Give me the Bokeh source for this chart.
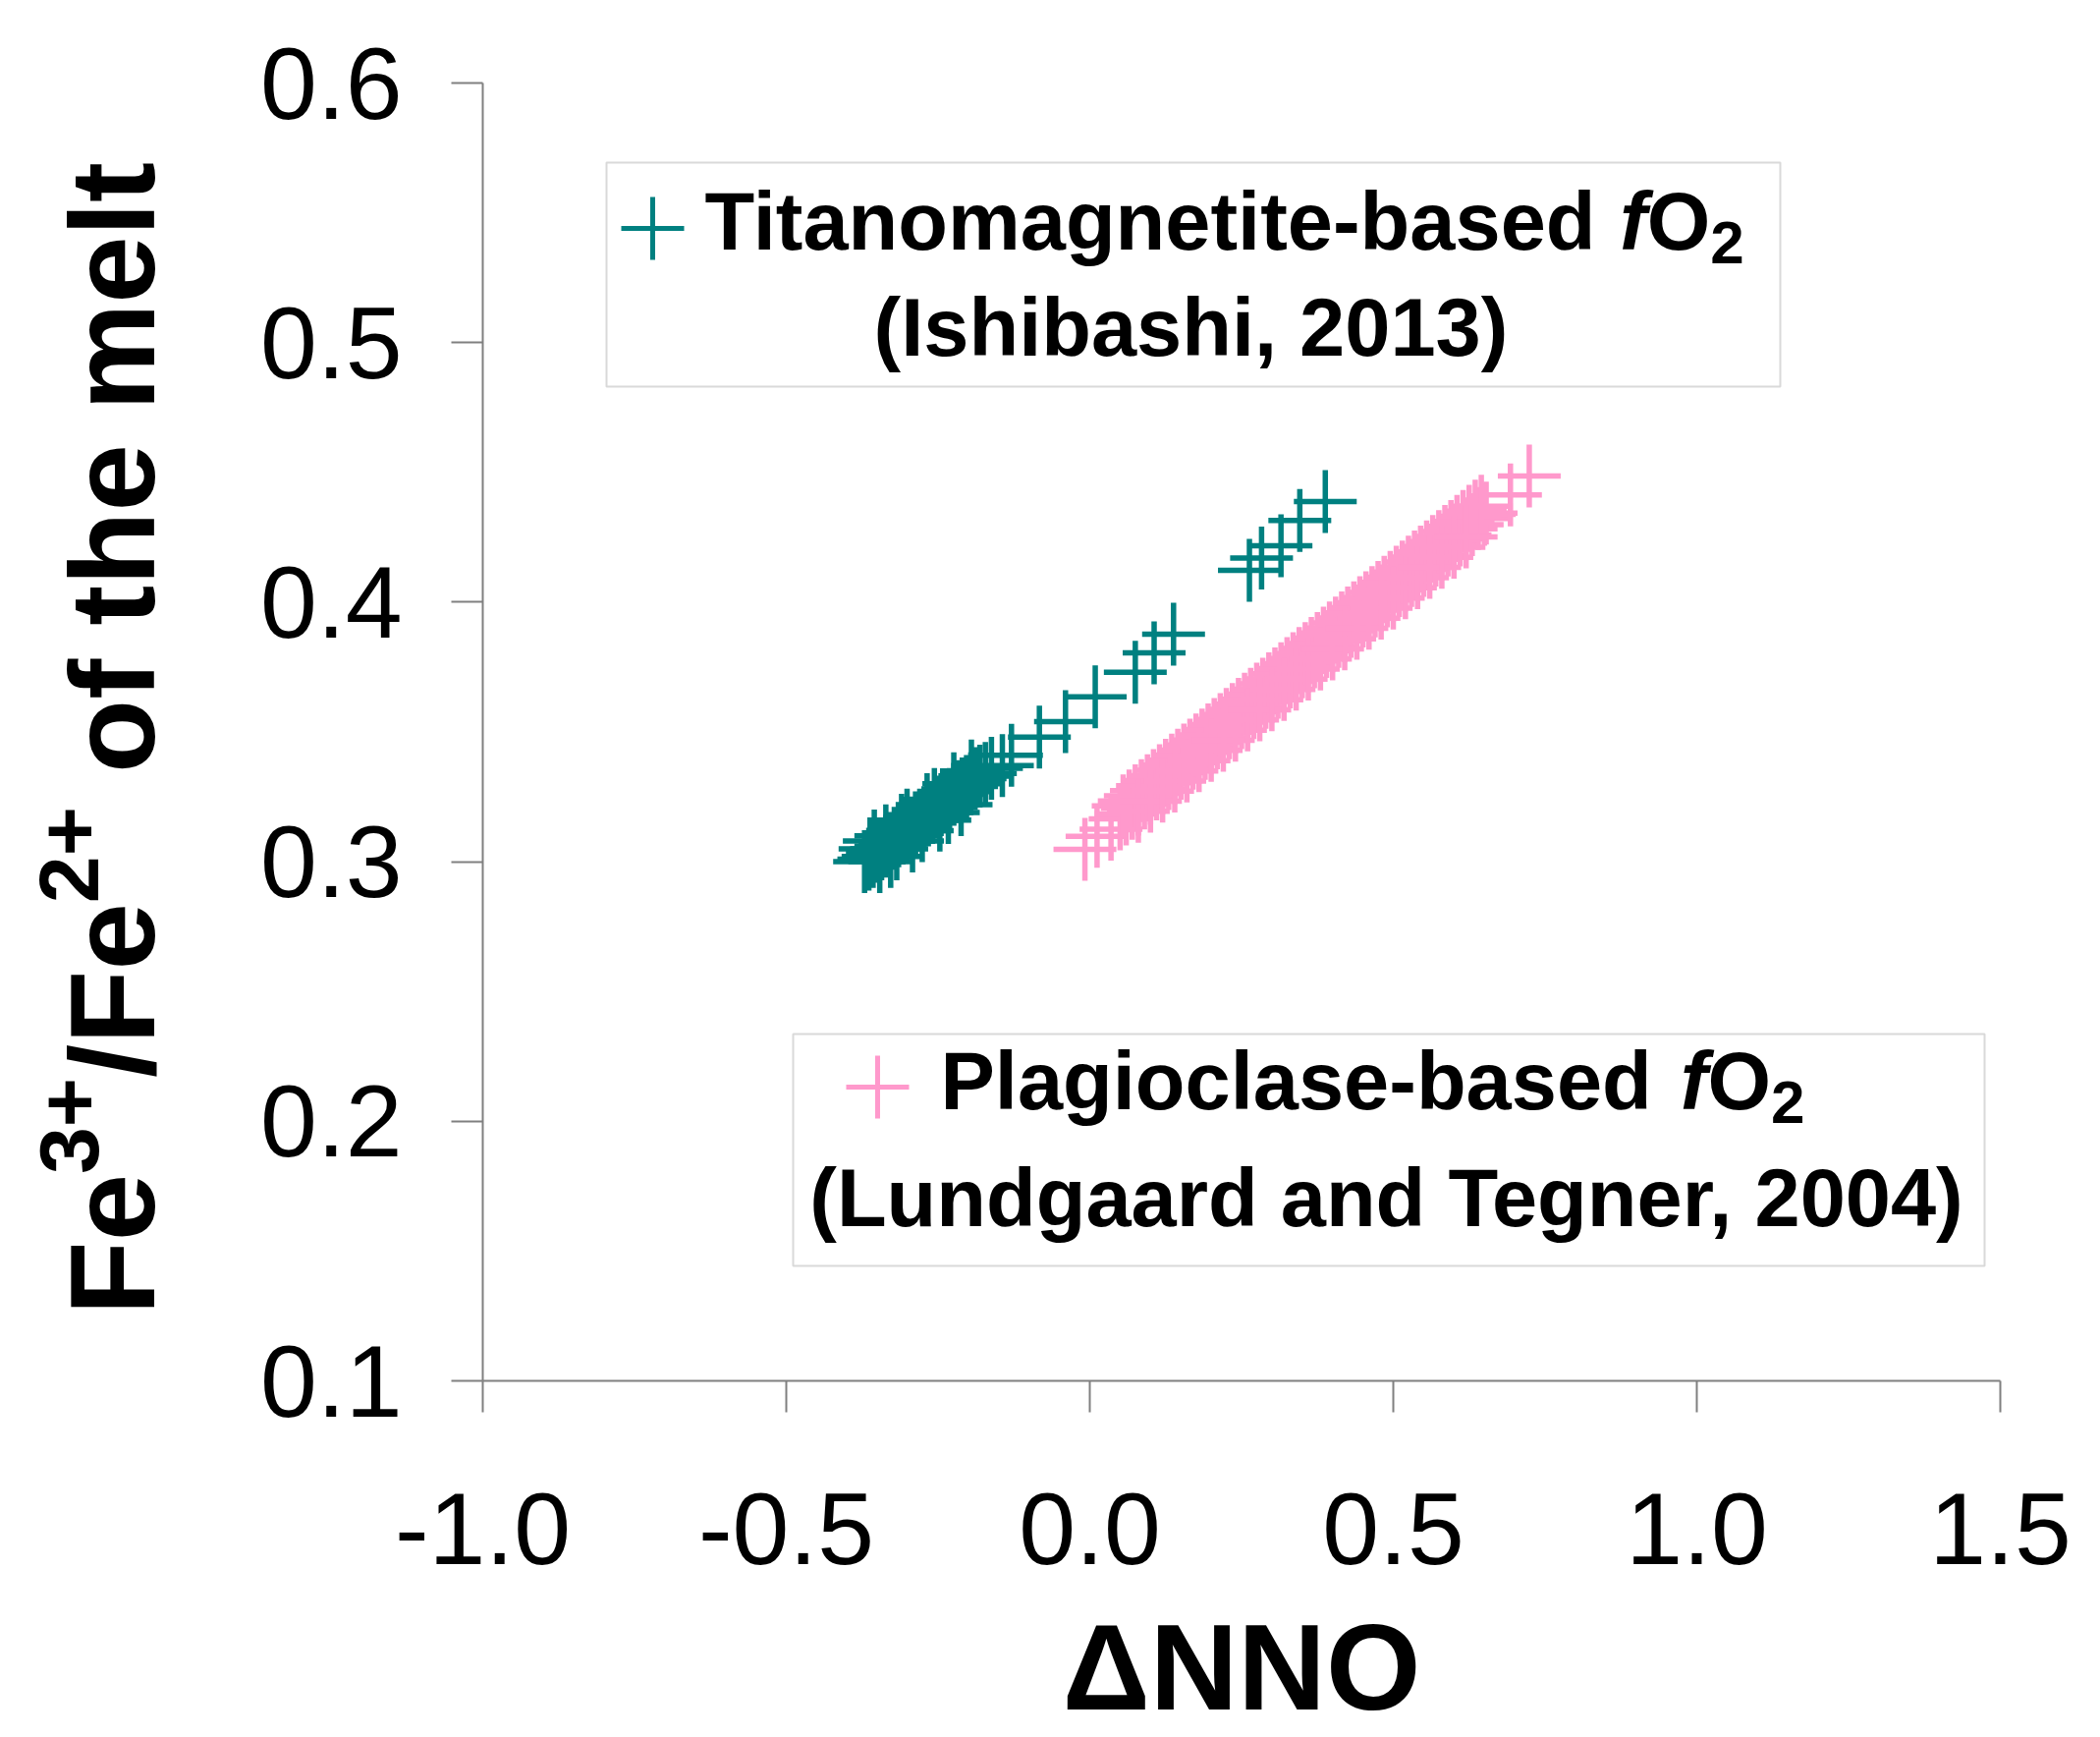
from math import pi
from bokeh.plotting import figure
from bokeh.layouts import row
from bokeh.models import Label, BoxAnnotation, FixedTicker, NumeralTickFormatter
from bokeh.embed import file_html
from bokeh.resources import INLINE

# ---------------- data ----------------
# Titanomagnetite-based fO2 (Ishibashi, 2013)
titano_x = [-0.371, -0.364, -0.357, -0.350, -0.343, -0.336, -0.329, -0.322, -0.315, -0.308,
            -0.301, -0.294, -0.287, -0.280, -0.273, -0.266, -0.259, -0.252, -0.245, -0.238,
            -0.231, -0.224, -0.217, -0.210, -0.203, -0.196, -0.189, -0.181, -0.172, -0.162,
            -0.362, -0.346, -0.336, -0.318, -0.301, -0.276, -0.256, -0.233,
            -0.355, -0.328, -0.310, -0.292, -0.268, -0.247, -0.224, -0.212, -0.195,
            -0.144, -0.129, -0.083, -0.040, 0.009, 0.075, 0.106, 0.138,
            0.263, 0.283, 0.315, 0.346, 0.388]
titano_y = [0.300, 0.301, 0.302, 0.304, 0.305, 0.306, 0.307, 0.309, 0.310, 0.311,
            0.312, 0.313, 0.315, 0.316, 0.317, 0.318, 0.319, 0.321, 0.322, 0.323,
            0.324, 0.326, 0.327, 0.328, 0.329, 0.330, 0.332, 0.333, 0.334, 0.336,
            0.305, 0.300, 0.310, 0.305, 0.316, 0.312, 0.324, 0.319,
            0.308, 0.302, 0.314, 0.308, 0.322, 0.316, 0.330, 0.322, 0.335,
            0.337, 0.341, 0.348, 0.354, 0.3635, 0.373, 0.3805, 0.3877,
            0.4123, 0.417, 0.4217, 0.4315, 0.4388]

# Plagioclase-based fO2 (Lundgaard and Tegner, 2004)
plag_x_main = [-0.008, 0.012, 0.035,
               0.050, 0.060, 0.070, 0.080, 0.090, 0.100, 0.110, 0.120, 0.130, 0.140, 0.150,
               0.160, 0.170, 0.180, 0.190, 0.200, 0.210, 0.220, 0.230, 0.240, 0.250, 0.260,
               0.270, 0.280, 0.290, 0.300, 0.310, 0.320, 0.330, 0.340, 0.350, 0.360, 0.370,
               0.380, 0.390, 0.400, 0.410, 0.420, 0.430, 0.440, 0.450, 0.460, 0.470, 0.480,
               0.490, 0.500, 0.510, 0.520, 0.530, 0.540, 0.550, 0.560, 0.570, 0.580, 0.590,
               0.600, 0.610, 0.620, 0.630, 0.640, 0.650,
               0.653, 0.693, 0.724]
plag_y_main = [0.3048, 0.3098, 0.3125,
               0.3165, 0.3184, 0.3206, 0.3222, 0.3245, 0.3263, 0.3280, 0.3304, 0.3320, 0.3343, 0.3360,
               0.3382, 0.3399, 0.3421, 0.3437, 0.3460, 0.3477, 0.3499, 0.3516, 0.3538, 0.3555, 0.3578,
               0.3594, 0.3617, 0.3633, 0.3656, 0.3672, 0.3695, 0.3712, 0.3734, 0.3751, 0.3773, 0.3790,
               0.3812, 0.3829, 0.3851, 0.3868, 0.3890, 0.3907, 0.3930, 0.3947, 0.3969, 0.3985, 0.4008,
               0.4024, 0.4047, 0.4064, 0.4086, 0.4103, 0.4126, 0.4142, 0.4165, 0.4181, 0.4204, 0.4220,
               0.4244, 0.4259, 0.4283, 0.4299, 0.4322, 0.4338,
               0.4343, 0.4413, 0.4486]
plag_x_upper = [0.055, 0.065, 0.075, 0.085, 0.095, 0.105, 0.115, 0.125, 0.135, 0.145,
                0.155, 0.165, 0.175, 0.185, 0.195, 0.205, 0.215, 0.225, 0.235, 0.245,
                0.255, 0.265, 0.275, 0.285, 0.295, 0.305, 0.315, 0.325, 0.335, 0.345,
                0.355, 0.365, 0.375, 0.385, 0.395, 0.405, 0.415, 0.425, 0.435, 0.445,
                0.455, 0.465, 0.475, 0.485, 0.495, 0.505, 0.515, 0.525, 0.535, 0.545,
                0.555, 0.565, 0.575, 0.585, 0.595, 0.605, 0.615, 0.625, 0.635, 0.645]
plag_y_upper = [0.3215, 0.3234, 0.3254, 0.3274, 0.3293, 0.3313, 0.3332, 0.3352, 0.3372, 0.3391,
                0.3411, 0.3430, 0.3450, 0.3469, 0.3489, 0.3509, 0.3528, 0.3548, 0.3567, 0.3587,
                0.3607, 0.3626, 0.3646, 0.3665, 0.3685, 0.3704, 0.3724, 0.3744, 0.3763, 0.3783,
                0.3802, 0.3822, 0.3841, 0.3861, 0.3881, 0.3900, 0.3920, 0.3939, 0.3959, 0.3979,
                0.3998, 0.4018, 0.4037, 0.4057, 0.4076, 0.4096, 0.4116, 0.4135, 0.4155, 0.4174,
                0.4194, 0.4214, 0.4233, 0.4253, 0.4272, 0.4292, 0.4311, 0.4331, 0.4351, 0.4370]
plag_x_lower = [0.08, 0.10, 0.12, 0.14, 0.16, 0.18, 0.20, 0.22, 0.24, 0.26, 0.28, 0.30, 0.32, 0.34,
                0.36, 0.38, 0.40, 0.42, 0.44, 0.46, 0.48, 0.50, 0.52, 0.54, 0.56, 0.58, 0.60, 0.62]
plag_y_lower = [0.3194, 0.3233, 0.3272, 0.3311, 0.3350, 0.3389, 0.3429, 0.3468, 0.3507, 0.3546,
                0.3585, 0.3624, 0.3664, 0.3703, 0.3742, 0.3781, 0.3820, 0.3859, 0.3899, 0.3938,
                0.3977, 0.4016, 0.4055, 0.4094, 0.4134, 0.4173, 0.4212, 0.4251]
plag_x = plag_x_main + plag_x_upper + plag_x_lower
plag_y = plag_y_main + plag_y_upper + plag_y_lower

x_ticks = [-1.0, -0.5, 0.0, 0.5, 1.0, 1.5]
y_ticks = [0.1, 0.2, 0.3, 0.4, 0.5, 0.6]
x_title = "ΔNNO"
y_title_parts = ["Fe", "3+", "/Fe", "2+", " of the melt"]
legend1_line1 = "Titanomagnetite-based "
legend1_line2 = "(Ishibashi, 2013)"
legend2_line1 = "Plagioclase-based "
legend2_line2 = "(Lundgaard and Tegner, 2004)"

TEAL = "#008080"
PINK = "#FF99CC"
FONT = "Liberation Sans"
GREY = "#808080"

TITLE_W = 200
TOP, FRAME_W, FRAME_H, BOTTOM = 84, 1545, 1321, 361

# ---------------- main figure ----------------
p = figure(frame_width=FRAME_W, frame_height=FRAME_H,
           min_border_left=491 - TITLE_W, min_border_top=TOP, min_border_right=94,
           min_border_bottom=BOTTOM,
           x_range=(-1.0, 1.5), y_range=(0.1, 0.6),
           output_backend="svg", toolbar_location=None,
           background_fill_color="white", border_fill_color="white")
p.outline_line_color = None
p.xgrid.visible = False
p.ygrid.visible = False

for ax in (p.xaxis[0], p.yaxis[0]):
    ax.axis_line_color = GREY
    ax.axis_line_width = 2
    ax.major_tick_line_color = GREY
    ax.major_tick_line_width = 2
    ax.major_tick_out = 32
    ax.major_tick_in = 0
    ax.minor_tick_line_color = None
    ax.major_label_text_font = FONT
    ax.major_label_text_font_size = "104px"
    ax.major_label_text_color = "black"
    ax.formatter = NumeralTickFormatter(format="0.0")

p.xaxis[0].ticker = FixedTicker(ticks=x_ticks)
p.yaxis[0].ticker = FixedTicker(ticks=y_ticks)
p.xaxis[0].major_label_standoff = 82
p.yaxis[0].major_label_standoff = 50

p.xaxis[0].axis_label = x_title
p.xaxis[0].axis_label_text_font = FONT
p.xaxis[0].axis_label_text_font_size = "124px"
p.xaxis[0].axis_label_text_font_style = "bold"
p.xaxis[0].axis_label_text_color = "black"
p.xaxis[0].axis_label_standoff = 33

# ---------------- data points ----------------
p.scatter(titano_x, titano_y, marker="cross", size=64, line_color=TEAL, line_width=5.5)
p.scatter(plag_x, plag_y, marker="cross", size=64, line_color=PINK, line_width=5.5)

# ---------------- page-pixel helpers ----------------
def dx(px):
    return -1.0 + (px - 491) / 618.0

def dy(py):
    return 0.1 + (1405 - py) / 2642.0

W = {' ': 278, '(': 333, ')': 333, ',': 278, '-': 333, '/': 278, '+': 584,
     '0': 556, '1': 556, '2': 556, '3': 556, '4': 556, '5': 556, '6': 556, '7': 556, '8': 556, '9': 556,
     'F': 611, 'L': 611, 'O': 778, 'P': 667, 'T': 611, 'I': 278, 'N': 722,
     'a': 556, 'b': 611, 'c': 556, 'd': 611, 'e': 556, 'f': 333, 'g': 611, 'h': 611, 'i': 278,
     'l': 278, 'm': 889, 'n': 611, 'o': 611, 'r': 389, 's': 556, 't': 333, 'u': 611}

def adv(s, size):
    return sum(W.get(c, 556) for c in s) * size / 1000.0

BASE_K = 0.36  # the label anchor sits this many em above the drawn baseline

def label(px, py_base, text, size, style="bold", align="left"):
    p.add_layout(Label(x=dx(px), y=dy(py_base - BASE_K * size), text=text.strip(), text_font=FONT,
                       text_font_size=f"{size}px", text_font_style=style,
                       text_color="black", text_align=align, text_baseline="alphabetic"))

# ---------------- legend boxes ----------------
p.add_layout(BoxAnnotation(left=dx(617), right=dx(1812), top=dy(165), bottom=dy(393),
                           fill_color="white", fill_alpha=1.0, line_color=GREY,
                           line_width=2, level="underlay"))
p.add_layout(BoxAnnotation(left=dx(807), right=dx(2020), top=dy(1052), bottom=dy(1288),
                           fill_color="white", fill_alpha=1.0, line_color=GREY,
                           line_width=2, level="underlay"))

p.scatter([dx(664)], [dy(232)], marker="cross", size=64, line_color=TEAL, line_width=5)
p.scatter([dx(893)], [dy(1106)], marker="cross", size=64, line_color=PINK, line_width=5)

LS = 83
SUB = 62
def legend_first_line(x0, base, txt, gap=0.0):
    x = x0
    label(x, base, txt, LS); x += adv(txt, LS) + gap
    label(x, base, "f", LS, style="bold italic"); x += adv("f", LS)
    label(x, base, "O", LS); x += adv("O", LS)
    label(x, base + 14, "2", SUB)

legend_first_line(717, 255, legend1_line1)
label(1212, 363, legend1_line2, LS, align="center")
legend_first_line(957, 1130, legend2_line1, gap=6)
label(1411, 1249, legend2_line2, LS, align="center")

# ---------------- y-axis title (strip left of the plot, frame aligned with the plot) ----------------
t = figure(frame_width=TITLE_W, frame_height=FRAME_H,
           min_border_left=0, min_border_right=0, min_border_top=TOP, min_border_bottom=BOTTOM,
           x_range=(0, TITLE_W), y_range=(0.1, 0.6),
           x_axis_type=None, y_axis_type=None, output_backend="svg", toolbar_location=None,
           background_fill_color="white", border_fill_color="white")
t.outline_line_color = None
t.xgrid.visible = False
t.ygrid.visible = False

MAIN, SUP = 123, 86
ypos = 1338.0
for part in y_title_parts:
    sup = part in ("3+", "2+")
    size = SUP if sup else MAIN
    base_x = 101 if sup else 158
    lead = len(part) - len(part.lstrip(" "))
    ypos -= adv(" " * lead, size)          # leading spaces are collapsed in SVG text
    txt = part.strip()
    t.add_layout(Label(x=base_x - BASE_K * size, y=dy(ypos), text=txt,
                       angle=pi / 2, text_font=FONT, text_font_size=f"{size}px",
                       text_font_style="bold", text_color="black",
                       text_align="left", text_baseline="alphabetic"))
    ypos -= adv(txt, size)

layout = row(t, p)
open("out.html", "w").write(file_html(layout, INLINE))
